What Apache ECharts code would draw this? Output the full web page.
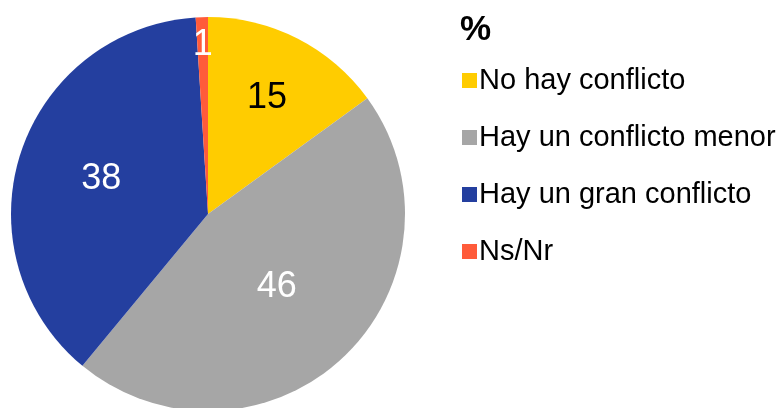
<!DOCTYPE html>
<html>
<head>
    <meta charset="utf-8">
    <title>Conflicto</title>
    <script src="https://cdn.jsdelivr.net/npm/echarts@6/dist/echarts.min.js"></script>
    <style>
        html, body { margin: 0; padding: 0; background: #fff; }
    </style>
</head>
<body>
    <div id="main" style="width: 782px; height: 408px;"></div>

    <script>
        const categories = ['No hay conflicto', 'Hay un conflicto menor', 'Hay un gran conflicto', 'Ns/Nr'];
        const values = [15, 46, 38, 1];
        const colors = ['#FFCC00', '#A6A6A6', '#243F9F', '#FF5B3A'];
        const labelColors = ['#000', '#fff', '#fff', '#fff'];

        // how far out each value label sits (fraction of radius)
        const labelRadius = [0.66, 0.51, 0.57, 0.86];
        const center = [208, 214];
        const radius = 197;
        const font = "'Liberation Sans', Arial, sans-serif";

        const total = values.reduce((a, b) => a + b, 0);
        const midFrac = [];
        let acc = 0;
        values.forEach(v => { midFrac.push((acc + v / 2) / total); acc += v; });

        const option = {
            animation: false,
            title: {
                text: '%',
                left: 455,
                top: 8,
                textStyle: { fontFamily: font, fontSize: 35, fontWeight: 'bold', color: '#000' }
            },
            legend: {
                orient: 'vertical',
                left: 457,
                top: 61,
                icon: 'rect',
                itemWidth: 15,
                itemHeight: 15,
                itemGap: 28,
                textStyle: { fontFamily: font, fontSize: 29, color: '#000', padding: [0, 0, 0, -3] },
                data: categories
            },
            series: [{
                type: 'pie',
                center: center,
                radius: radius,
                startAngle: 90,
                clockwise: true,
                silent: true,
                label: {
                    show: true,
                    position: 'inside',
                    formatter: '{c}',
                    fontFamily: font,
                    fontSize: 36
                },
                labelLine: { show: false },
                labelLayout: params => {
                    const i = params.dataIndex;
                    const a = Math.PI / 2 - midFrac[i] * 2 * Math.PI;
                    const r = labelRadius[i] * radius;
                    return {
                        x: center[0] + r * Math.cos(a),
                        y: center[1] - r * Math.sin(a),
                        align: 'center',
                        verticalAlign: 'middle'
                    };
                },
                data: categories.map((name, i) => ({
                    name: name,
                    value: values[i],
                    itemStyle: { color: colors[i] },
                    label: { color: labelColors[i] }
                }))
            }]
        };

        const chart = echarts.init(document.getElementById('main'));
        chart.setOption(option);
    </script>
</body>
</html>
